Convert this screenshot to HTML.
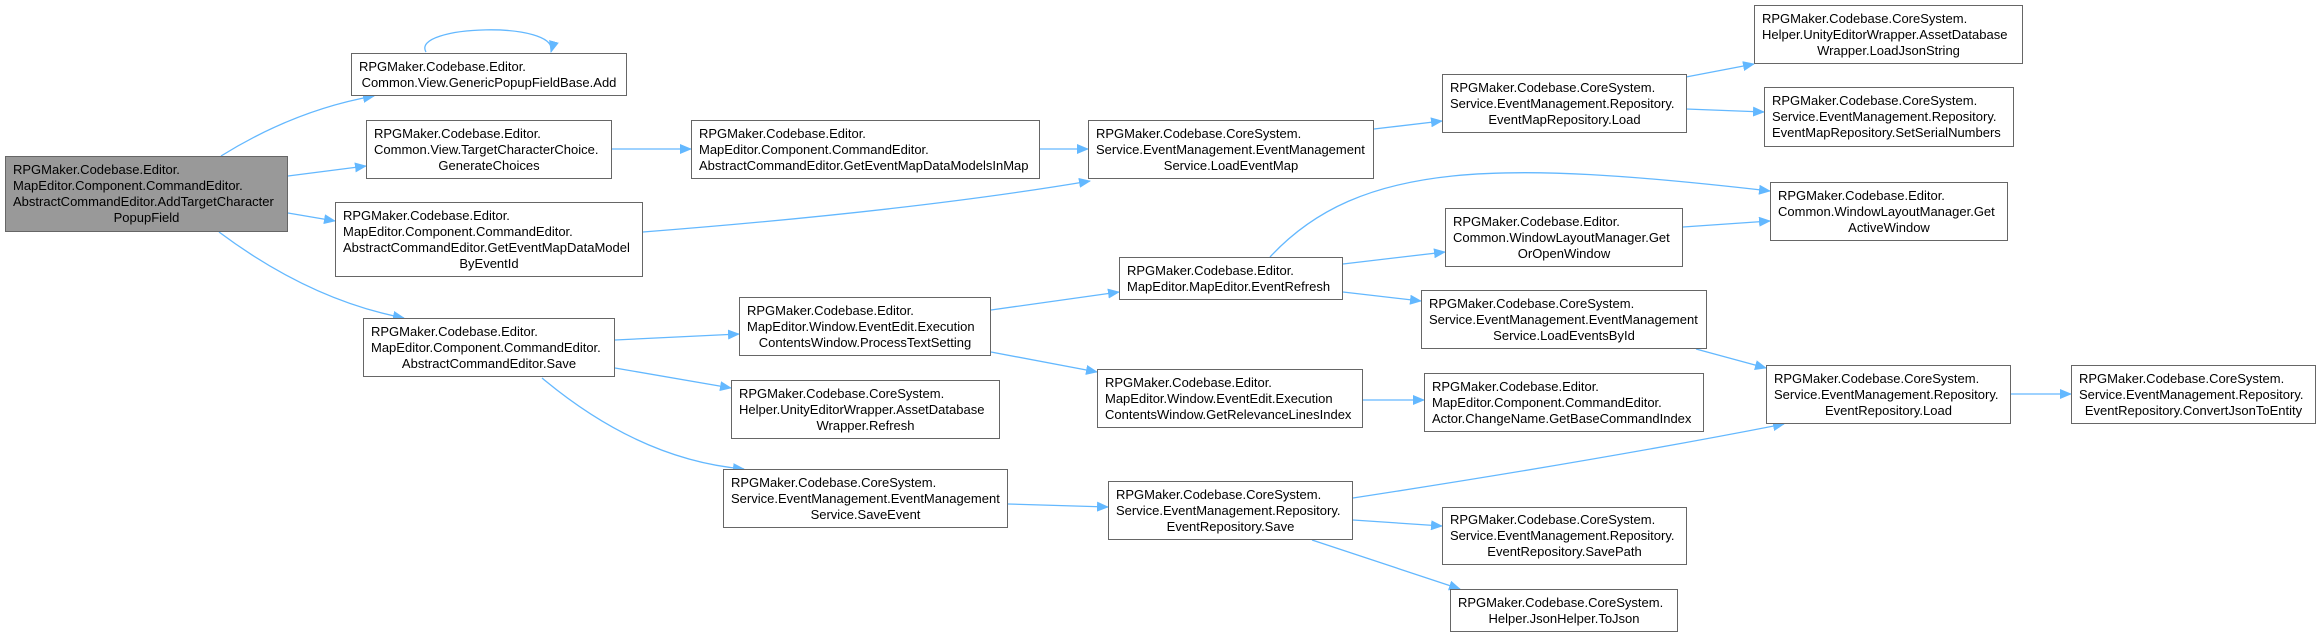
<!DOCTYPE html>
<html><head><meta charset="utf-8"><style>
html,body{margin:0;padding:0;background:#fff;}
body{width:2321px;height:637px;position:relative;overflow:hidden;font-family:"Liberation Sans",Arial,sans-serif;font-size:13px;color:#000;}
.n{position:absolute;box-sizing:border-box;border:1px solid #666;background:#fff;padding:0 7px;display:flex;flex-direction:column;justify-content:center;line-height:16px;white-space:nowrap;}
.n div:last-child{text-align:center;}
.n.c div{text-align:center;}
.root{background:#999;}
svg{position:absolute;left:0;top:0;}
</style></head><body>
<svg width="2321" height="637" viewBox="0 0 2321 637">
<defs><marker id="a" markerWidth="12" markerHeight="10" refX="11" refY="5" orient="auto" markerUnits="userSpaceOnUse"><path d="M0,0 L12,5 L0,10 z" fill="#63b8ff"/></marker></defs>
<g fill="none" stroke="#63b8ff" stroke-width="1.3" marker-end="url(#a)">
<path d="M426,52 C410,25 560,20 551,52"/>
<path d="M221,156 Q295,110 374,96"/>
<path d="M288,176 L366,166"/>
<path d="M288,213 L335,221"/>
<path d="M219,232 Q310,300 404,318"/>
<path d="M612,149 L691,149"/>
<path d="M1040,149 L1088,149"/>
<path d="M643,232 Q912,211 1090,181"/>
<path d="M1374,129 L1442,121"/>
<path d="M1686,77 L1754,64"/>
<path d="M1686,109 L1764,112"/>
<path d="M615,340 L739,334"/>
<path d="M615,368 L731,388"/>
<path d="M542,378 Q640,460 744,469"/>
<path d="M991,310 L1119,292"/>
<path d="M991,352 L1097,372"/>
<path d="M1008,504 L1108,507"/>
<path d="M1270,257 C1360,160 1500,160 1770,191"/>
<path d="M1343,264 L1445,252"/>
<path d="M1343,292 L1421,301"/>
<path d="M1683,227 L1770,221"/>
<path d="M1696,349 L1766,368"/>
<path d="M1363,400 L1424,400"/>
<path d="M2011,394 L2071,394"/>
<path d="M1353,498 Q1600,460 1784,424"/>
<path d="M1353,520 L1442,526"/>
<path d="M1312,540 L1460,589"/>
</g></svg>

<div class="n root" style="left:5px;top:156px;width:283px;height:76px"><div>RPGMaker.Codebase.Editor.</div><div>MapEditor.Component.CommandEditor.</div><div>AbstractCommandEditor.AddTargetCharacter</div><div>PopupField</div></div>
<div class="n" style="left:351px;top:53px;width:276px;height:43px"><div>RPGMaker.Codebase.Editor.</div><div>Common.View.GenericPopupFieldBase.Add</div></div>
<div class="n" style="left:366px;top:120px;width:246px;height:59px"><div>RPGMaker.Codebase.Editor.</div><div>Common.View.TargetCharacterChoice.</div><div>GenerateChoices</div></div>
<div class="n" style="left:691px;top:120px;width:349px;height:59px"><div>RPGMaker.Codebase.Editor.</div><div>MapEditor.Component.CommandEditor.</div><div style="text-align:left">AbstractCommandEditor.GetEventMapDataModelsInMap</div></div>
<div class="n" style="left:335px;top:202px;width:308px;height:75px"><div>RPGMaker.Codebase.Editor.</div><div>MapEditor.Component.CommandEditor.</div><div>AbstractCommandEditor.GetEventMapDataModel</div><div>ByEventId</div></div>
<div class="n" style="left:363px;top:318px;width:252px;height:59px"><div>RPGMaker.Codebase.Editor.</div><div>MapEditor.Component.CommandEditor.</div><div>AbstractCommandEditor.Save</div></div>
<div class="n" style="left:739px;top:297px;width:252px;height:59px"><div>RPGMaker.Codebase.Editor.</div><div>MapEditor.Window.EventEdit.Execution</div><div>ContentsWindow.ProcessTextSetting</div></div>
<div class="n" style="left:731px;top:380px;width:269px;height:59px"><div>RPGMaker.Codebase.CoreSystem.</div><div>Helper.UnityEditorWrapper.AssetDatabase</div><div>Wrapper.Refresh</div></div>
<div class="n" style="left:723px;top:469px;width:285px;height:59px"><div>RPGMaker.Codebase.CoreSystem.</div><div>Service.EventManagement.EventManagement</div><div>Service.SaveEvent</div></div>
<div class="n" style="left:1088px;top:120px;width:286px;height:59px"><div>RPGMaker.Codebase.CoreSystem.</div><div>Service.EventManagement.EventManagement</div><div>Service.LoadEventMap</div></div>
<div class="n" style="left:1442px;top:74px;width:245px;height:59px"><div>RPGMaker.Codebase.CoreSystem.</div><div>Service.EventManagement.Repository.</div><div>EventMapRepository.Load</div></div>
<div class="n" style="left:1754px;top:5px;width:269px;height:59px"><div>RPGMaker.Codebase.CoreSystem.</div><div>Helper.UnityEditorWrapper.AssetDatabase</div><div>Wrapper.LoadJsonString</div></div>
<div class="n" style="left:1764px;top:87px;width:250px;height:60px"><div>RPGMaker.Codebase.CoreSystem.</div><div>Service.EventManagement.Repository.</div><div style="text-align:left">EventMapRepository.SetSerialNumbers</div></div>
<div class="n" style="left:1770px;top:182px;width:238px;height:59px"><div>RPGMaker.Codebase.Editor.</div><div>Common.WindowLayoutManager.Get</div><div>ActiveWindow</div></div>
<div class="n" style="left:1445px;top:208px;width:238px;height:59px"><div>RPGMaker.Codebase.Editor.</div><div>Common.WindowLayoutManager.Get</div><div>OrOpenWindow</div></div>
<div class="n" style="left:1119px;top:257px;width:224px;height:43px"><div>RPGMaker.Codebase.Editor.</div><div style="text-align:left">MapEditor.MapEditor.EventRefresh</div></div>
<div class="n" style="left:1421px;top:290px;width:286px;height:59px"><div>RPGMaker.Codebase.CoreSystem.</div><div>Service.EventManagement.EventManagement</div><div>Service.LoadEventsById</div></div>
<div class="n" style="left:1097px;top:369px;width:266px;height:59px"><div>RPGMaker.Codebase.Editor.</div><div>MapEditor.Window.EventEdit.Execution</div><div style="text-align:left">ContentsWindow.GetRelevanceLinesIndex</div></div>
<div class="n" style="left:1424px;top:373px;width:280px;height:59px"><div>RPGMaker.Codebase.Editor.</div><div>MapEditor.Component.CommandEditor.</div><div style="text-align:left">Actor.ChangeName.GetBaseCommandIndex</div></div>
<div class="n" style="left:1766px;top:365px;width:245px;height:59px"><div>RPGMaker.Codebase.CoreSystem.</div><div>Service.EventManagement.Repository.</div><div>EventRepository.Load</div></div>
<div class="n" style="left:2071px;top:365px;width:245px;height:59px"><div>RPGMaker.Codebase.CoreSystem.</div><div>Service.EventManagement.Repository.</div><div>EventRepository.ConvertJsonToEntity</div></div>
<div class="n" style="left:1108px;top:481px;width:245px;height:59px"><div>RPGMaker.Codebase.CoreSystem.</div><div>Service.EventManagement.Repository.</div><div>EventRepository.Save</div></div>
<div class="n" style="left:1442px;top:507px;width:245px;height:58px"><div>RPGMaker.Codebase.CoreSystem.</div><div>Service.EventManagement.Repository.</div><div>EventRepository.SavePath</div></div>
<div class="n" style="left:1450px;top:589px;width:228px;height:43px"><div>RPGMaker.Codebase.CoreSystem.</div><div>Helper.JsonHelper.ToJson</div></div>
</body></html>
